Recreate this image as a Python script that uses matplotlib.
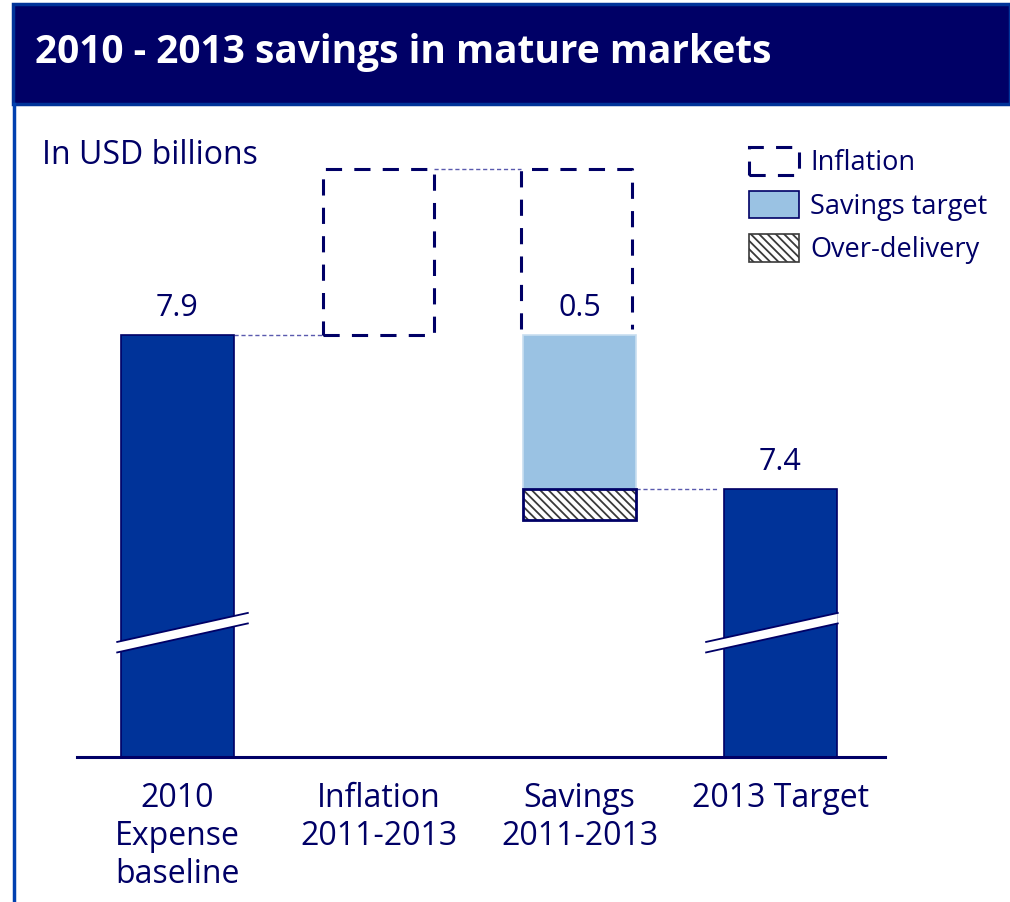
import matplotlib
matplotlib.use("Agg")
import matplotlib.pyplot as plt
from matplotlib.patches import Patch, Rectangle, Polygon
from matplotlib.lines import Line2D
import matplotlib.transforms as mtransforms

plt.rcParams['font.family'] = ['Open Sans', 'DejaVu Sans']
plt.rcParams['hatch.linewidth'] = 1.3

# waterfall values, USD billions
categories = ['2010\nExpense\nbaseline', 'Inflation\n2011-2013', 'Savings\n2011-2013', '2013 Target']
baseline_2010 = 7.9
inflation = 0.54
savings_target = 0.5
over_delivery = 0.1
target_2013 = 7.4
value_labels = ['7.9', '0.5', '7.4']

AXIS_FLOOR = 6.53   # truncated axis, shown with break marks on the totals
NAVY = '#000066'
BAR_BLUE = '#003399'
LIGHT_BLUE = '#9AC2E3'
LINK = '#5A5AAE'

fig = plt.figure(figsize=(10.10, 9.02), dpi=100)
W, H = 1010, 902

def fx(px):
    return px / W

def fy(py):
    return 1 - py / H

# header band and frame
fig.patches.append(Rectangle((fx(13), fy(104)), 1 - fx(13), fy(4) - fy(104),
                             transform=fig.transFigure, facecolor=NAVY,
                             edgecolor=BAR_BLUE, lw=2.5, zorder=0))
fig.add_artist(Line2D([fx(14), fx(14)], [0, fy(104)], color='#0040B0', lw=2.5))
fig.text(fx(35), fy(63), '2010 - 2013 savings in mature markets', color='white',
         fontsize=28, fontweight='bold', va='baseline', ha='left')

ax = fig.add_axes([fx(77), fy(757), fx(885) - fx(77), fy(140) - fy(757)])
ax.set_xlim(-0.5, 3.52)
ax.set_ylim(AXIS_FLOOR, AXIS_FLOOR + 617 / 308)

bw = 0.56
bw_dash = 0.55
dash = dict(color=NAVY, lw=2.2, linestyle=(0, (5.3, 4.0)))

# totals
ax.bar(0, baseline_2010 - AXIS_FLOOR, bottom=AXIS_FLOOR, width=bw,
       color=BAR_BLUE, edgecolor=NAVY, lw=1.2, zorder=3)
ax.bar(3, target_2013 - AXIS_FLOOR, bottom=AXIS_FLOOR, width=bw,
       color=BAR_BLUE, edgecolor=NAVY, lw=1.2, zorder=3)

# inflation step
top = baseline_2010 + inflation
ax.bar(1, inflation, bottom=baseline_2010, width=bw_dash, fill=False,
       edgecolor=NAVY, lw=2.2, linestyle=(0, (5.3, 4.0)), zorder=3)

# savings: offset of inflation (open dashed box), target and over-delivery
xs = 1.985
xl, xr = xs - bw_dash / 2, xs + bw_dash / 2
ax.plot([xl, xl, xr, xr], [baseline_2010 + 0.02, top, top, baseline_2010 + 0.02],
        zorder=3, **dash)
ax.bar(2, savings_target, bottom=baseline_2010 - savings_target, width=bw,
       color=LIGHT_BLUE, edgecolor='#C8DEF0', lw=1.2, zorder=3)
od_bottom = baseline_2010 - savings_target - over_delivery
ax.bar(2, over_delivery, bottom=od_bottom, width=bw, facecolor='white',
       edgecolor='#3A3A3A', lw=0, hatch='\\\\\\\\', zorder=3)
ax.bar(2, over_delivery, bottom=od_bottom, width=bw, fill=False,
       edgecolor=NAVY, lw=2.0, zorder=4)

# connectors
link = dict(color=LINK, lw=1.0, linestyle=(0, (3, 2)), zorder=2)
ax.plot([bw / 2, 1 - bw_dash / 2], [baseline_2010] * 2, **link)
ax.plot([1 + bw_dash / 2, xl], [top] * 2, **link)
ax.plot([2 + bw / 2, 3 - bw / 2 - 0.03], [target_2013] * 2, **link)

# value labels
ax.text(0, baseline_2010 + 0.04, value_labels[0], ha='center', va='bottom',
        color=NAVY, fontsize=22)
ax.text(2, baseline_2010 + 0.04, value_labels[1], ha='center', va='bottom',
        color=NAVY, fontsize=22)
ax.text(3, target_2013 + 0.04, value_labels[2], ha='center', va='bottom',
        color=NAVY, fontsize=22)

# axis break marks
blend = mtransforms.blended_transform_factory(ax.transData, ax.transAxes)

def draw_break(xc, left, right):
    x0, x1 = xc - bw / 2 - left, xc + bw / 2 + right
    y0, y1, t = 0.178, 0.225, 0.0085
    ax.add_patch(Polygon([(x0, y0 - t), (x1, y1 - t), (x1, y1 + t), (x0, y0 + t)],
                         closed=True, transform=blend, facecolor='white',
                         edgecolor='none', zorder=5))
    for s in (-t, t):
        ax.plot([x0, x1], [y0 + s, y1 + s], transform=blend, color=NAVY,
                lw=1.3, zorder=6)

draw_break(0, 0.02, 0.07)
draw_break(3, 0.09, 0.005)

ax.set_xticks(range(4), categories)
ax.tick_params(axis='x', length=0, pad=18, labelsize=23, labelcolor=NAVY)
for lab in ax.get_xticklabels():
    lab.set_linespacing(1.2)
ax.set_yticks([])
for side in ('top', 'left', 'right'):
    ax.spines[side].set_visible(False)
ax.spines['bottom'].set_color(NAVY)
ax.spines['bottom'].set_linewidth(2.2)
ax.spines['bottom'].set_zorder(7)

fig.text(fx(42), fy(155), 'In USD billions', color=NAVY, fontsize=23,
         va='center', ha='left')

handles = [
    Patch(facecolor='none', edgecolor=NAVY, lw=2.2, linestyle=(0, (5.3, 4.0))),
    Patch(facecolor=LIGHT_BLUE, edgecolor=NAVY, lw=1.2),
    Patch(facecolor='white', edgecolor='#3A3A3A', lw=1.2, hatch='\\\\\\\\'),
]
leg = fig.legend(handles, ['Inflation', 'Savings target', 'Over-delivery'],
                 loc='upper left', bbox_to_anchor=(fx(749), fy(147)),
                 bbox_transform=fig.transFigure, frameon=False, fontsize=19.5,
                 handlelength=1.85, handleheight=1.2, handletextpad=0.4,
                 labelspacing=0.5, borderpad=0, borderaxespad=0)
for txt in leg.get_texts():
    txt.set_color(NAVY)

fig.savefig('out.png', dpi=100, facecolor='white')
